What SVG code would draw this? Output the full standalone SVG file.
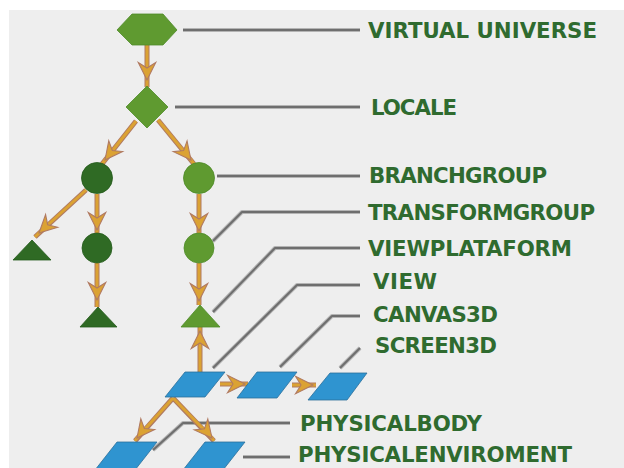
<svg xmlns="http://www.w3.org/2000/svg" width="624" height="468" viewBox="0 0 624 468">
<style>
.lbl{font-family:"DejaVu Sans","Verdana",sans-serif;font-weight:bold;font-size:21.3px;fill:#2f6b2f}
.lead-o{fill:none;stroke:#b4b4b4;stroke-width:4;stroke-linejoin:round}
.lead-i{fill:none;stroke:#6e6e6e;stroke-width:2;stroke-linejoin:round}
.conn-o{fill:none;stroke:#b07a62;stroke-width:5;stroke-linecap:butt}
.conn-i{fill:none;stroke:#dba233;stroke-width:3;marker-mid:url(#ah)}
.lg{fill:#5f9a30;stroke:#4e8a28;stroke-width:0.8}
.dg{fill:#2f6a24;stroke:#245a1c;stroke-width:0.8}
.bl{fill:#2f94d0;stroke:#2b6f9a;stroke-width:0.8}
</style>
<defs>
<marker id="ah" markerUnits="userSpaceOnUse" markerWidth="24" markerHeight="24" refX="0" refY="0" viewBox="-18 -10 22 20" orient="auto" overflow="visible">
<polygon points="0,0 -16,-8 -11,0 -16,8" fill="#dba233" stroke="#b07a62" stroke-width="1"/>
</marker>
</defs>
<rect width="624" height="468" fill="#ffffff"/>
<rect x="9" y="10" width="615" height="458" fill="#eeeeee"/>

<g id="connectors">
<path class="lead-o" d="M183,30 H360 M175,107 H360 M217,176 H360 M213,241 L242,212 H360 M213,312 L275,248 H360 M213,368 L297,285 H360 M280,367 L332,316 H360 M340,368 L360,348 M153,450 L183,423 H290 M243,457 H290"/>
<path class="lead-i" d="M183,30 H360 M175,107 H360 M217,176 H360 M213,241 L242,212 H360 M213,312 L275,248 H360 M213,368 L297,285 H360 M280,367 L332,316 H360 M340,368 L360,348 M153,450 L183,423 H290 M243,457 H290"/>
<path class="conn-o" d="M147,45 L147,87 M136,121 L102,164 M158,120 L194,164 M86,190 L35,237 M97,194 L97,233 M97,263 L97,307 M199,194 L199,233 M199,263 L199,305 M200,372 L200,327 M220,384 L248,384 M292,385 L316,385 M173,398 L135,441 M173,398 L214,441"/>
<path class="conn-i" d="M147,45 L147,80 L147,87"/>
<path class="conn-i" d="M136,121 L105,160 L102,164"/>
<path class="conn-i" d="M158,120 L191,160 L194,164"/>
<path class="conn-i" d="M86,190 L39,233 L35,237"/>
<path class="conn-i" d="M97,194 L97,230 L97,233"/>
<path class="conn-i" d="M97,263 L97,300 L97,307"/>
<path class="conn-i" d="M199,194 L199,231 L199,233"/>
<path class="conn-i" d="M199,263 L199,301 L199,305"/>
<path class="conn-i" d="M200,372 L200,331 L200,327"/>
<path class="conn-i" d="M220,384 L245,384 L248,384"/>
<path class="conn-i" d="M292,385 L313,385 L316,385"/>
<path class="conn-i" d="M173,398 L137,438 L135,441"/>
<path class="conn-i" d="M173,398 L212,438 L214,441"/>
</g>

<g id="virtual-universe"><polygon class="lg" points="117,30 132,14 163,14 177,30 163,45 132,45"/></g>
<g id="locale"><polygon class="lg" points="147,86 168,107 147,128 126,107"/></g>
<g id="branchgroup-left"><circle class="dg" cx="97" cy="178" r="15.5"/></g>
<g id="branchgroup-right"><circle class="lg" cx="199" cy="178" r="15.5"/></g>
<g id="shape-left"><polygon class="dg" points="32,240 51,260 13,260"/></g>
<g id="transformgroup-left"><circle class="dg" cx="97" cy="248" r="15"/></g>
<g id="shape-left-bottom"><polygon class="dg" points="98,307 117,327 80,327"/></g>
<g id="transformgroup"><circle class="lg" cx="199" cy="248" r="15"/></g>
<g id="viewplatform"><polygon class="lg" points="200,305 220,327 181,327"/></g>
<g id="view"><polygon class="bl" points="185,372 225,372 205,397 165,397"/></g>
<g id="canvas3d"><polygon class="bl" points="257,372 297,372 277,398 237,398"/></g>
<g id="screen3d"><polygon class="bl" points="330,373 367,373 347,400 308,400"/></g>
<g id="physicalbody"><polygon class="bl" points="117,442 157,442 135,470 95,470"/></g>
<g id="physicalenvironment"><polygon class="bl" points="205,442 245,442 223,470 183,470"/></g>

<g id="labels">
<text class="lbl" x="368" y="38" textLength="229">VIRTUAL UNIVERSE</text>
<text class="lbl" x="371" y="115" textLength="86">LOCALE</text>
<text class="lbl" x="369" y="183" textLength="178">BRANCHGROUP</text>
<text class="lbl" x="368" y="220" textLength="227">TRANSFORMGROUP</text>
<text class="lbl" x="368" y="256" textLength="204">VIEWPLATAFORM</text>
<text class="lbl" x="373" y="289" textLength="64">VIEW</text>
<text class="lbl" x="373" y="322" textLength="125">CANVAS3D</text>
<text class="lbl" x="375" y="353" textLength="122">SCREEN3D</text>
<text class="lbl" x="300" y="431" textLength="182">PHYSICALBODY</text>
<text class="lbl" x="298" y="462" textLength="274">PHYSICALENVIROMENT</text>
</g>
</svg>
